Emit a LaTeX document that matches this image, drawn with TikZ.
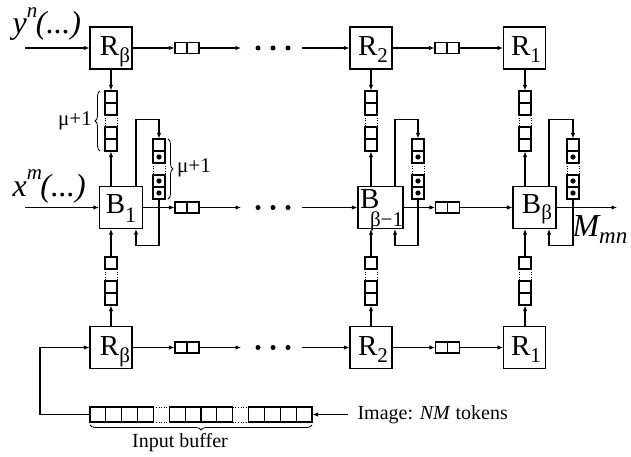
\documentclass[tikz,border=0pt]{standalone}
\usepackage{fontspec}
\setmainfont{Liberation Serif}
\usetikzlibrary{arrows.meta,decorations.pathreplacing}

\tikzset{
  proc/.style={draw, minimum width=42pt, minimum height=42pt, inner sep=0pt},
  ar/.style={-{Latex[length=5.5pt,width=4.5pt]}},
  qbox/.style={draw, minimum width=24pt, minimum height=11pt, inner sep=0pt},
  dotn/.style={circle, fill, inner sep=0pt, minimum size=5pt},
  vcol/.style={minimum width=12pt, inner sep=0pt},
  dotsty/.style={dotted, line width=0.6pt},
  big/.style={font=\fontsize{29}{29}\selectfont, inner sep=0pt},
  mu/.style={font=\fontsize{21}{21}\selectfont, inner sep=0pt},
  brc/.style={decorate, decoration={brace, amplitude=5pt}},
}

\newcommand\colA[2]{%
  \node[vcol,minimum height=60pt] (#1) at (#2,121) {};
  \draw (#2-6,91) rectangle (#2+6,115) (#2-6,103) -- (#2+6,103)
        (#2-6,127) rectangle (#2+6,151) (#2-6,139) -- (#2+6,139);
  \draw[dotsty] (#2-6,115) -- (#2-6,127) (#2+6,115) -- (#2+6,127);
}
\newcommand\colB[2]{%
  \node[vcol,minimum height=48pt] (#1) at (#2,281) {};
  \draw (#2-6,257) rectangle (#2+6,269)
        (#2-6,281) rectangle (#2+6,305) (#2-6,293) -- (#2+6,293);
  \draw[dotsty] (#2-6,269) -- (#2-6,281) (#2+6,269) -- (#2+6,281);
}
\newcommand\colC[2]{%
  \node[vcol,minimum height=60pt] (#1) at (#2,169) {};
  \draw (#2-6,139) rectangle (#2+6,163) (#2-6,151) -- (#2+6,151)
        (#2-6,175) rectangle (#2+6,199) (#2-6,187) -- (#2+6,187);
  \draw[dotsty] (#2-6,163) -- (#2-6,175) (#2+6,163) -- (#2+6,175);
  \fill (#2,157) circle (2.6pt) (#2,181) circle (2.6pt) (#2,193) circle (2.6pt);
}
\newcommand\queue[3]{%
  \node[qbox] (#1) at (#2,#3) {};
  \draw (#2,#3-5.5) -- (#2,#3+5.5);
}
\newcommand\rsub[1]{\raisebox{-6.5pt}{\fontsize{21}{21}\selectfont #1}}

\begin{document}
\begin{tikzpicture}[x=1pt,y=-1pt,line width=1.1pt]
\useasboundingbox (0,0) rectangle (631,457);

% ---------- top row ----------
\node[proc] (Rt1) at (111,48) {};
\node[big,anchor=base] at (115,56) {R\rsub{β}};
\queue{qt1}{187}{48}
\node[dotn] (dt1) at (258,48) {};
\node[dotn] (dt2) at (273,48) {};
\node[dotn] (dt3) at (288,48) {};
\coordinate (yin) at (25,48);
\coordinate (at1) at (241,48);
\coordinate (ct) at (302,48);
\node[proc] (Rt2) at (371,48) {};
\node[big,anchor=base] at (373,56) {R\rsub{2}};
\queue{qt2}{447}{48}
\node[proc] (Rt3) at (524.5,48) {};
\node[big,anchor=base] at (526,56) {R\rsub{1}};

\node[anchor=base west, inner sep=0pt, font=\fontsize{32}{32}\selectfont\itshape] (ylab) at (12,34)
  {y\raisebox{16pt}{\fontsize{21}{21}\selectfont n}\kern-1.5pt(...)};

\draw[ar] (yin) -- (Rt1.west);
\draw[ar] (Rt1.east) -- (qt1.west);
\draw[ar] (qt1.east) -- (at1);
\draw[ar] (ct) -- (Rt2.west);
\draw[ar] (Rt2.east) -- (qt2.west);
\draw[ar] (qt2.east) -- (Rt3.west);

% ---------- middle row ----------
\node[proc, minimum width=43pt] (B1) at (121,207.5) {};
\node[big,anchor=base] at (121,213) {B\raisebox{-9.5pt}{\fontsize{22}{22}\selectfont 1}};
\queue{qm1}{187}{207.5}
\node[dotn] (dm1) at (258,207.5) {};
\node[dotn] (dm2) at (273,207.5) {};
\node[dotn] (dm3) at (288,207.5) {};
\coordinate (xin) at (25,207.5);
\coordinate (am1) at (241,207.5);
\coordinate (cm) at (302,207.5);
\node[proc, minimum width=45pt] (Bb1) at (380.5,207.5) {};
\node[big,anchor=base west] at (359.5,208) {B};
\node[anchor=base west, inner sep=0pt, font=\fontsize{21}{21}\selectfont] at (369.5,226.5) {β−1};
\queue{qm2}{447.5}{207.5}
\node[proc, minimum width=43pt] (Bb) at (534.5,207.5) {};
\node[big,anchor=base] at (537,213) {B\rsub{β}};
\coordinate (mout) at (617,207.5);
\node[anchor=base west, inner sep=0pt, font=\fontsize{32}{32}\selectfont\itshape] (mlab) at (572,236)
  {M\raisebox{-7pt}{\fontsize{23}{23}\selectfont mn}};

\node[anchor=base west, inner sep=0pt, font=\fontsize{32}{32}\selectfont\itshape] (xlab) at (12,196)
  {x\raisebox{17pt}{\fontsize{21}{21}\selectfont m}\kern-1.5pt(...)};

\draw[ar] (xin) -- (B1.west);
\draw[ar] (B1.east) -- (qm1.west);
\draw[ar] (qm1.east) -- (am1);
\draw[ar] (cm) -- (Bb1.west);
\draw[ar] (Bb1.east) -- (qm2.west);
\draw[ar] (qm2.east) -- (Bb.west);
\draw[ar] (Bb.east) -- (mout);

% ---------- bottom row ----------
\node[proc] (Rb1) at (111,347.5) {};
\node[big,anchor=base] at (115,355.5) {R\rsub{β}};
\queue{qb1}{187}{347.5}
\node[dotn] (db1) at (258,347.5) {};
\node[dotn] (db2) at (273,347.5) {};
\node[dotn] (db3) at (288,347.5) {};
\coordinate (ab1) at (241,347.5);
\coordinate (cb) at (302,347.5);
\node[proc] (Rb2) at (371,347.5) {};
\node[big,anchor=base] at (373,355.5) {R\rsub{2}};
\queue{qb2}{447.5}{347.5}
\node[proc] (Rb3) at (524.5,347.5) {};
\node[big,anchor=base] at (526,355.5) {R\rsub{1}};

\draw[ar] (Rb1.east) -- (qb1.west);
\draw[ar] (qb1.east) -- (ab1);
\draw[ar] (cb) -- (Rb2.west);
\draw[ar] (Rb2.east) -- (qb2.west);
\draw[ar] (qb2.east) -- (Rb3.west);

% ---------- columns ----------
\colA{tc1}{111}
\colA{tc2}{371}
\colA{tc3}{525}
\colB{bc1}{111}
\colB{bc2}{371}
\colB{bc3}{525}
\colC{rc1}{159}
\colC{rc2}{418}
\colC{rc3}{573}

\draw[ar] (Rt1.south) -- (tc1.north);
\draw[ar] (Rt2.south) -- (tc2.north);
\draw[ar] (Rt3.south -| tc3.north) -- (tc3.north);
\draw[ar] (tc1.south |- B1.north) -- (tc1.south);
\draw[ar] (tc2.south |- Bb1.north) -- (tc2.south);
\draw[ar] (tc3.south |- Bb.north) -- (tc3.south);
\draw[ar] (Rb1.north) -- (bc1.south);
\draw[ar] (Rb2.north) -- (bc2.south);
\draw[ar] (Rb3.north -| bc3.south) -- (bc3.south);
\draw[ar] (bc1.north) -- (bc1.north |- B1.south);
\draw[ar] (bc2.north) -- (bc2.north |- Bb1.south);
\draw[ar] (bc3.north) -- (bc3.north |- Bb.south);

% feedback loops
\coordinate (B1t) at ([xshift=15pt]B1.north);
\coordinate (B1b) at ([xshift=15pt]B1.south);
\coordinate (Bb1t) at ([xshift=14.5pt]Bb1.north);
\coordinate (Bb1b) at ([xshift=14.5pt]Bb1.south);
\coordinate (Bbt) at ([xshift=14.5pt]Bb.north);
\coordinate (Bbb) at ([xshift=14.5pt]Bb.south);
\draw[ar] (B1t) -- ++(0,-66) -| (rc1.north);
\draw[ar] (rc1.south) -- ++(0,46) -| (B1b);
\draw[ar] (Bb1t) -- ++(0,-66) -| (rc2.north);
\draw[ar] (rc2.south) -- ++(0,46) -| (Bb1b);
\draw[ar] (Bbt) -- ++(0,-66) -| (rc3.north);
\draw[ar] (rc3.south) -- ++(0,46) -| (Bbb);

% braces
\draw[brc, line width=0.8pt] (100,151) -- (100,91);
\node[mu] at (75,121) {μ+1};
\draw[brc, line width=0.8pt] (168,139) -- (168,199);
\node[mu] at (194,168) {μ+1};

% ---------- input buffer ----------
\node[minimum width=222pt, minimum height=15pt, inner sep=0pt] (buf) at (201,414.5) {};
\foreach \i in {0,1,2,3,5,6,7,8,10,11,12,13}
  \draw (90+\i*15.857,407) rectangle (90+\i*15.857+15.857,422);
\foreach \i in {4,9}
  \draw[dotsty] (90+\i*15.857,407) -- (90+\i*15.857+15.857,407)
                (90+\i*15.857,422) -- (90+\i*15.857+15.857,422);
\draw[brc, line width=0.8pt] (312,425) -- (90,425);
\node[inner sep=0pt, font=\fontsize{20}{20}\selectfont] (iblab) at (180,443) {Input buffer};

\node[anchor=west, inner sep=0pt, inner xsep=9pt, font=\fontsize{20}{20}\selectfont] (img) at (348,414.5) {Image: \textit{NM} tokens};
\draw[ar] (img.west) -- (buf.east);
\coordinate (lp) at (40,414.5);
\draw[ar] (buf.west) -- (lp) |- (Rb1.west);
\end{tikzpicture}
\end{document}
